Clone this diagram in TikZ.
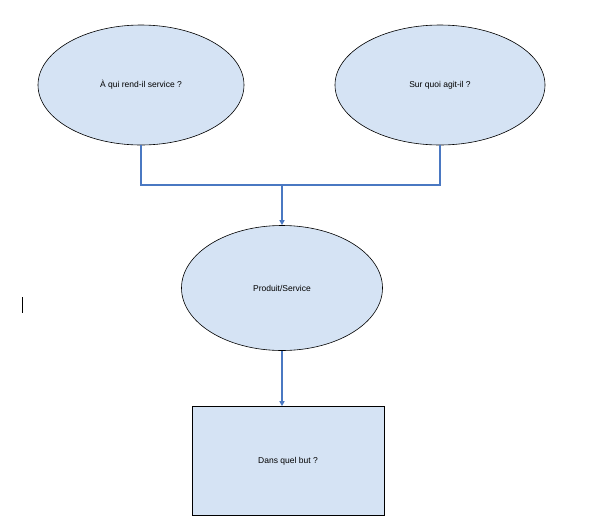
\documentclass[tikz,border=0pt]{standalone}
\usepackage{fontspec}
\setmainfont{Liberation Sans}
\usetikzlibrary{shapes.geometric,arrows.meta}
\definecolor{fillb}{HTML}{D5E3F4}
\definecolor{lineb}{HTML}{4A78C2}
\tikzset{
  bub/.style={ellipse,draw=black,fill=fillb,line width=0.6pt,font=\fontsize{8.5}{10}\selectfont},
  conn/.style={draw=lineb,line width=1.6pt},
  arr/.style={conn,-{Triangle[length=5pt,width=5pt]}}
}
\begin{document}
\begin{tikzpicture}[x=1pt,y=-1pt]
\useasboundingbox (0,0) rectangle (600,531);
\node[bub,minimum width=206,minimum height=120] (a) at (141,85) {À qui rend-il service ?};
\node[bub,minimum width=210,minimum height=120] (b) at (440,85) {Sur quoi agit-il ?};
\node[bub,minimum width=201,minimum height=125] (c) at (282,288) {Produit/Service};
\node[draw=black,fill=fillb,line width=0.6pt,minimum width=192,minimum height=109,font=\fontsize{8.5}{10}\selectfont] (d) at (288,461) {Dans quel but ?};
\coordinate (j) at (282,185);
\draw[conn] (a.south) -- (141,185) -- (440,185) -- (b.south);
\draw[arr] (j) -- (c.north);
\draw[arr] (c.south) -- (d.north -| c.south);
\draw[line width=0.8pt] (22,297) -- (22,313);
\end{tikzpicture}
\end{document}
